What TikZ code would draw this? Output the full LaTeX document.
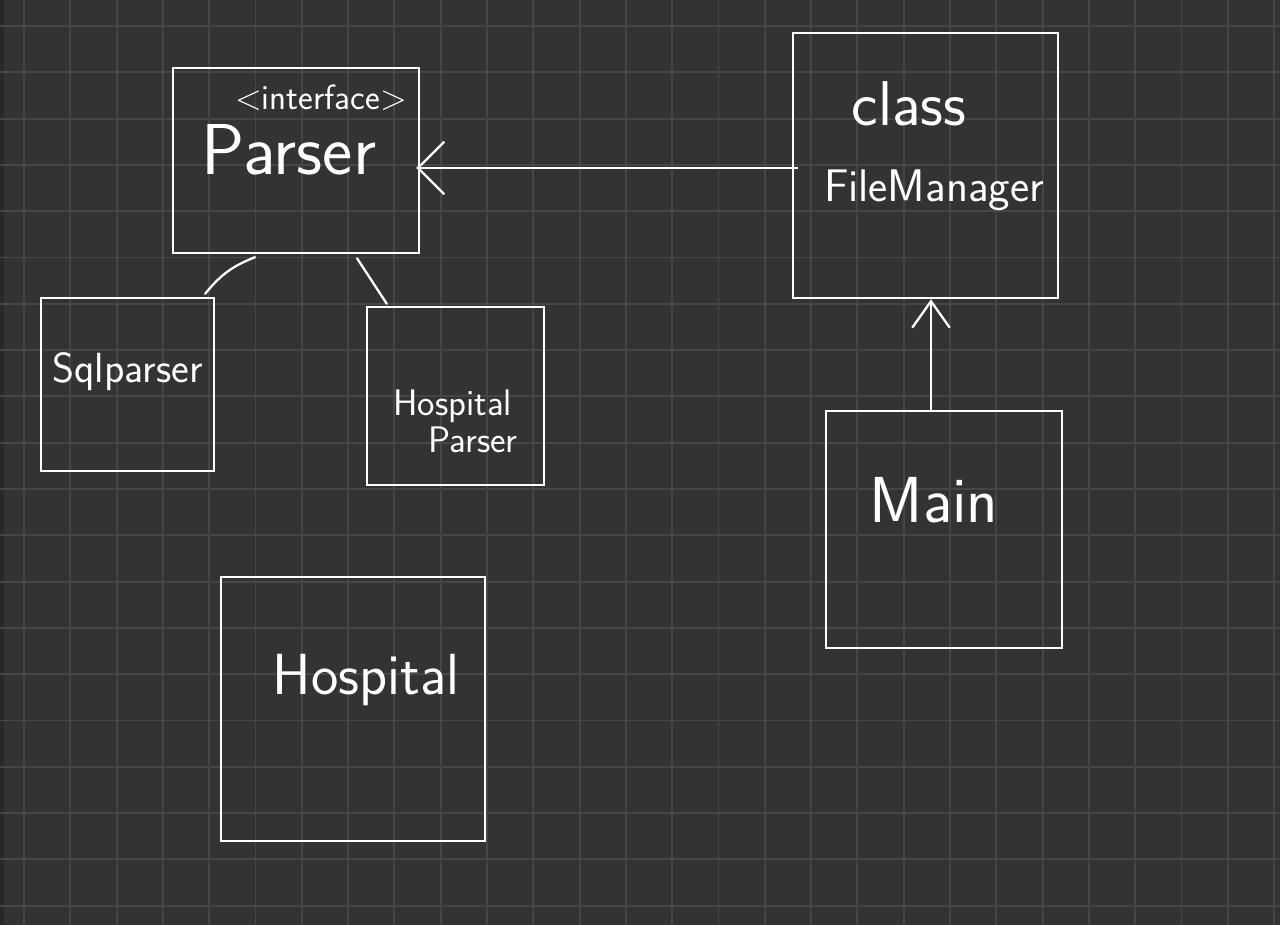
\documentclass[tikz,border=0pt]{standalone}
\usepackage{fontspec}
\usepackage{tikz}
\usetikzlibrary{positioning,arrows.meta}
\definecolor{board}{RGB}{51,51,51}
\definecolor{boardedge}{RGB}{40,40,42}
\definecolor{gridc}{RGB}{70,70,74}
\tikzset{
  gridline/.style={draw=gridc, line width=1.1pt},
  cls/.style={draw=white, line width=1.4pt, rectangle, inner sep=0pt},
  hand/.style={text=white, font=\sffamily\fontsize{#1}{#1}\selectfont, inner sep=0pt, align=left},
  hand/.default=24pt,
  link/.style={draw=white, line width=1.3pt, line cap=round},
  uses/.style={draw=white, line width=1.3pt, -{Straight Barb[length=5.3mm, width=#1, line width=1.3pt]}},
  uses/.default=9mm,
}

\begin{document}
\begin{tikzpicture}[x=1cm, y=1cm]
\useasboundingbox (0,0) rectangle (25.6,18.5);
\fill[board] (0,0) rectangle (25.6,18.5);
\fill[boardedge] (0,0) rectangle (0.09,18.5);

% whiteboard grid
\foreach \i in {0,...,27} \draw[gridline] (0.48+\i*0.926,0) -- ++(0,18.5);
\foreach \j in {0,...,19} \draw[gridline] (0,0.386+\j*0.926) -- ++(25.6,0);

% class boxes
\node[cls, minimum width=4.92cm, minimum height=3.70cm] (parser) at (5.92,15.29) {};
\node[cls, minimum width=5.30cm, minimum height=5.30cm] (fm) at (18.51,15.19) {};
\node[cls, minimum width=3.46cm, minimum height=3.46cm] (sql) at (2.55,10.81) {};
\node[cls, minimum width=3.54cm, minimum height=3.56cm] (hp) at (9.11,10.58) {};
\node[cls, minimum width=4.72cm, minimum height=4.74cm] (main) at (18.88,7.91) {};
\node[cls, minimum width=5.28cm, minimum height=5.28cm] (hospital) at (7.06,4.32) {};

% handwritten names
\node[hand=20pt] (ifacetxt) at ([shift={(0.5,1.25)}]parser.center) {<interface>};
\node[hand=41pt] (parsertxt) at ([shift={(-0.14,0.21)}]parser.center) {Parser};
\node[hand=36pt] (classtxt) at ([shift={(-0.33,1.23)}]fm.center) {class};
\node[hand=26pt] (fmtxt) at ([shift={(0.17,-0.49)}]fm.center) {FileManager};
\node[hand=24pt] (sqltxt) at ([shift={(0,0.25)}]sql.center) {Sqlparser};
\node[hand=21pt] (hptxt) at ([shift={(0,-0.5)}]hp.center) {Hospital\\\hspace{0.95em}Parser};
\node[hand=37pt] (maintxt) at ([shift={(-0.2,0.59)}]main.center) {Main};
\node[hand=33pt] (hospitaltxt) at ([shift={(0.26,0.58)}]hospital.center) {Hospital};

% connectors
\draw[link] ([xshift=-0.82cm,yshift=-0.06cm]parser.south) to[bend right=15] ([xshift=-0.2cm,yshift=0.06cm]sql.north east);
\draw[link] ([xshift=1.22cm,yshift=-0.08cm]parser.south) -- ([xshift=0.42cm,yshift=0.04cm]hp.north west);
\draw[uses=10.5mm] ([xshift=0.12cm,yshift=-0.05cm]fm.west) -- ([xshift=-0.08cm,yshift=-0.05cm]fm.west -| parser.east);
\coordinate (mtop) at ([xshift=-0.26cm]main.north);
\draw[uses=7.5mm] (mtop) -- (mtop |- fm.south);
\end{tikzpicture}
\end{document}
